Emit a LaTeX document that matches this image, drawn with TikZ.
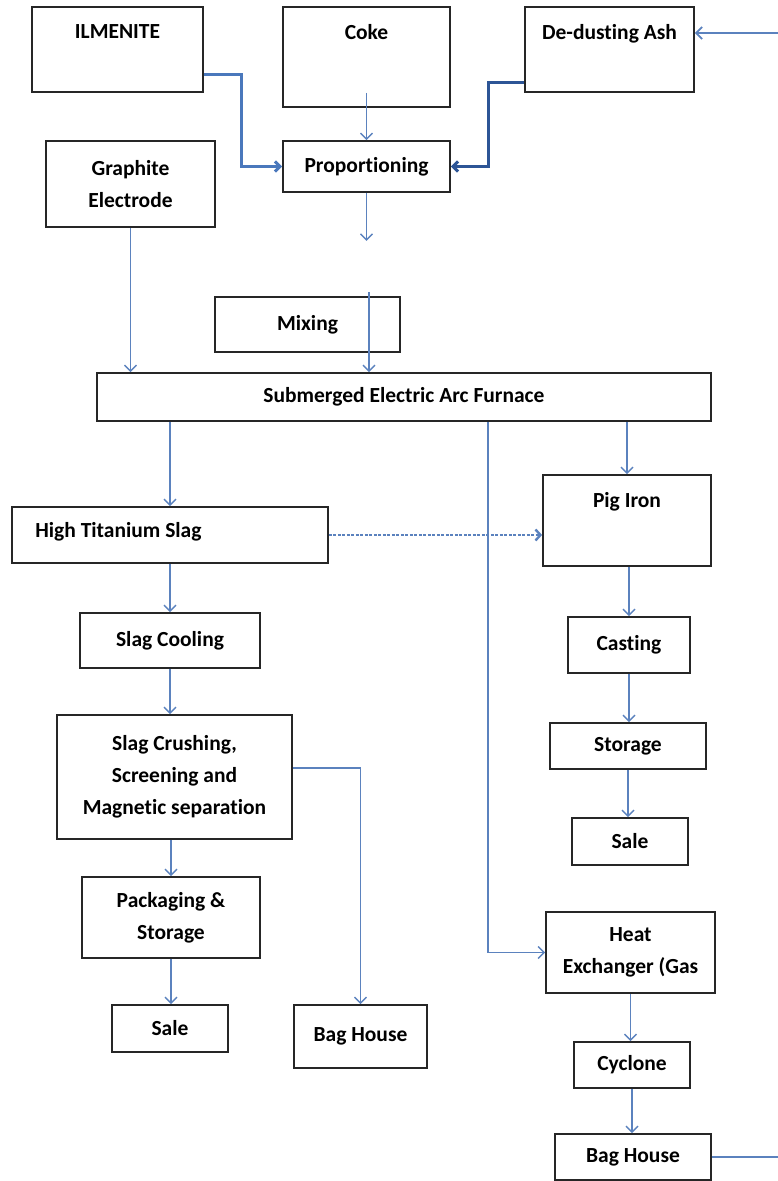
\documentclass[tikz,border=0pt]{standalone}
\usepackage{fontspec}
\setmainfont{Carlito}[Ligatures=NoCommon]
\usepackage{tikz}
\usetikzlibrary{arrows.meta,calc}

\definecolor{flowblue}{HTML}{5B82BE}
\definecolor{feedblue}{HTML}{4A78BC}
\definecolor{ashblue}{HTML}{2D5596}

\begin{document}
\begin{tikzpicture}[x=1pt, y=-1pt,
    box/.style={draw=black!85, line width=1.8pt, align=center, inner sep=2pt,
                font=\fontsize{21.5}{32}\selectfont\bfseries},
    every label/.style={font=\fontsize{21.5}{32}\selectfont\bfseries, inner sep=2pt},
    flow/.style={draw=flowblue, line width=1.4pt, -{Straight Barb[length=6pt,width=12pt]}},
    feed/.style={draw=feedblue, line width=3pt, -{Straight Barb[length=5pt,width=10pt]}},
    ashfeed/.style={draw=ashblue, line width=3pt, -{Straight Barb[length=5pt,width=10pt]}},
    dashflow/.style={draw=flowblue, line width=2.4pt, dash pattern=on 3pt off 1.5pt,
                     -{Straight Barb[length=5pt,width=11pt]}}
]
    \fill[white] (0,0) rectangle (778,1181);
    \useasboundingbox (0,0) rectangle (778,1181);

    % Raw materials
    \node[box, minimum width=171pt, minimum height=85pt,
          label={[anchor=north, yshift=-16pt]north:ILMENITE}] (ilm) at (117.5,49.5) {};
    \node[box, minimum width=167pt, minimum height=100pt,
          label={[anchor=north, yshift=-16pt]north:Coke}] (coke) at (366.5,57) {};
    \node[box, minimum width=169pt, minimum height=85pt,
          label={[anchor=north, yshift=-16pt]north:De-dusting Ash}] (ash) at (609.5,49.5) {};
    \node[box, minimum width=167pt, minimum height=51pt] (prop) at (366.5,166.5) {Proportioning};
    \node[box, minimum width=169pt, minimum height=86pt] (graph) at (130.5,184) {Graphite\\Electrode};
    \node[box, minimum width=185pt, minimum height=55pt] (mix) at (307.5,324.5) {Mixing};
    \node[box, minimum width=614pt, minimum height=48pt] (furn) at (404,397) {Submerged Electric Arc Furnace};

    % Slag line
    \node[box, minimum width=316pt, minimum height=56pt,
          label={[anchor=west, xshift=22pt, yshift=3pt]west:High Titanium Slag}] (hts) at (170,535) {};
    \node[box, minimum width=180pt, minimum height=55pt] (cool) at (170,640.5) {Slag Cooling};
    \node[box, minimum width=235pt, minimum height=124pt] (crush) at (174.5,777)
        {Slag Crushing,\\Screening and\\Magnetic separation};
    \node[box, minimum width=178pt, minimum height=81pt] (pack) at (171,917.5) {Packaging \&\\Storage};
    \node[box, minimum width=116pt, minimum height=47pt] (sale1) at (170,1028.5) {Sale};
    \node[box, minimum width=133pt, minimum height=63pt] (bag1) at (360.5,1036.5) {Bag House};

    % Iron line
    \node[box, minimum width=168pt, minimum height=91pt,
          label={[anchor=north, yshift=-16pt]north:Pig Iron}] (pig) at (627,520.5) {};
    \node[box, minimum width=122pt, minimum height=56pt] (cast) at (629,645) {Casting};
    \node[box, minimum width=156pt, minimum height=46pt] (stor) at (628,746) {Storage};
    \node[box, minimum width=116pt, minimum height=47pt] (sale2) at (630,841.5) {Sale};

    % Gas line
    \node[box, minimum width=169pt, minimum height=81pt] (hx) at (630.5,952.5) {Heat\\Exchanger (Gas};
    \node[box, minimum width=116pt, minimum height=46pt] (cyc) at (632,1065) {Cyclone};
    \node[box, minimum width=156pt, minimum height=46pt] (bag2) at (633,1157) {Bag House};

    % Free ends
    \coordinate (cokein) at ($(coke.south)+(0,-15)$);
    \coordinate (propout) at ($(prop.south)+(0,48)$);
    \coordinate (mixin) at (369,292);
    \coordinate (ashin) at (778,33);
    \coordinate (bagout) at (778,1159);

    % Feed connectors
    \draw[feed] ([yshift=-25pt]ilm.east) -- ++(38,0) |- (prop.west);
    \draw[ashfeed] ([yshift=-33pt]ash.west) -- ++(-36,0) |- (prop.east);
    \draw[flow, line width=1.8pt] (ashin) -- (ashin -| ash.east);
    \draw[flow] (cokein) -- (cokein |- prop.north);
    \draw[flow] (prop.south) -- (propout);
    \draw[flow] (mixin) -- (mixin |- furn.north);
    \draw[flow] (graph.south) -- (graph.south |- furn.north);

    % Furnace outputs
    \draw[flow] (furn.south -| hts.north) -- (hts.north);
    \draw[flow] (furn.south -| pig.north) -- (pig.north);
    \draw[flow] ([xshift=84pt]furn.south) |- (hx.west);
    \draw[dashflow] (hts.east) -- (hts.east -| pig.west);

    \draw[flow] (hts.south) -- (hts.south |- cool.north);
    \draw[flow] (cool.south) -- (cool.south |- crush.north);
    \draw[flow] ([yshift=9pt]crush.east) -| (bag1.north);
    \draw[flow] (crush.south -| pack.north) -- (pack.north);
    \draw[flow] (pack.south) -- (pack.south |- sale1.north);

    \draw[flow] (pig.south -| cast.north) -- (cast.north);
    \draw[flow] (cast.south) -- (cast.south |- stor.north);
    \draw[flow] (stor.south) -- (stor.south |- sale2.north);

    \draw[flow] (hx.south) -- (hx.south |- cyc.north);
    \draw[flow] (cyc.south) -- (cyc.south |- bag2.north);
    \draw[draw=flowblue, line width=1.8pt] (bag2.east) -- (bag2.east -| bagout);
\end{tikzpicture}
\end{document}
